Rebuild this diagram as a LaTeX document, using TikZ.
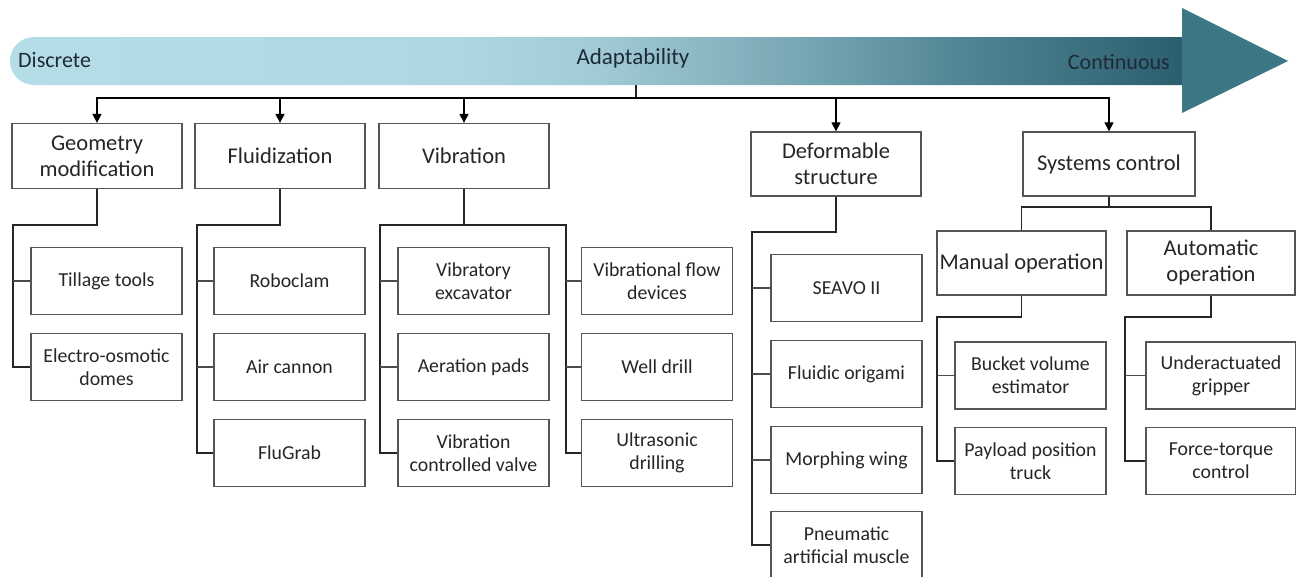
\documentclass[tikz,border=0pt]{standalone}
\usepackage{fontspec}
\setmainfont{Carlito}
\usetikzlibrary{arrows.meta}
\definecolor{boxline}{HTML}{555555}
\definecolor{txt}{HTML}{262626}
\definecolor{bandtxt}{HTML}{1E2A36}
\definecolor{bA}{HTML}{B4DDE8}
\definecolor{bB}{HTML}{AED7E2}
\definecolor{bC}{HTML}{A0CAD5}
\definecolor{bD}{HTML}{77A7B3}
\definecolor{bE}{HTML}{558896}
\definecolor{bF}{HTML}{2C5F6D}
\definecolor{headcol}{HTML}{3D7684}
\pgfdeclarehorizontalshading{bandshade}{100bp}{color(0bp)=(bA); color(25bp)=(bA); color(43.8bp)=(bB); color(50.2bp)=(bC); color(58.75bp)=(bD); color(65bp)=(bE); color(75bp)=(bF); color(100bp)=(bF)}
\tikzset{
  lvl/.style={draw=boxline, line width=1.3pt, fill=white, align=center, text=txt,
    font=\fontsize{22.5pt}{26pt}\selectfont, inner sep=0pt},
  leaf/.style={draw=boxline, line width=1.3pt, fill=white, align=center, text=txt,
    font=\fontsize{19.8pt}{23pt}\selectfont, minimum width=151pt, minimum height=67pt, inner sep=0pt},
  arr/.style={draw=black, line width=1.2pt, -{Triangle[length=9pt,width=9pt]}},
  link/.style={draw=black!85, line width=1.3pt},
  trunk/.style={draw=black!85, line width=1.8pt},
  stub/.style={draw=black!70, line width=1.4pt},
  bandlabel/.style={text=bandtxt, font=\fontsize{22pt}{26pt}\selectfont, inner sep=0pt},
}
\begin{document}
\begin{tikzpicture}[x=1pt,y=-1pt]
\useasboundingbox (0,0) rectangle (1296,576);
% band arrow
\shade[shading=bandshade] (1182,37) -- (34,37) arc[start angle=90, end angle=270, radius=24pt] -- (1182,85) -- cycle;
\fill[headcol] (1182,8) -- (1288,61) -- (1182,113) -- cycle;
\node[bandlabel, anchor=west] (discrete) at (18,60) {Discrete};
\node[bandlabel, font=\fontsize{23pt}{26pt}\selectfont] (adapt) at (633,58) {Adaptability};
\node[bandlabel, anchor=east] (cont) at (1170,62) {Continuous};
\coordinate (bandbot) at (636,85);
\coordinate (hub) at (636,98);

% level 1
\node[lvl, minimum width=170pt, minimum height=65pt] (geo) at (97,156) {Geometry\\modification};
\node[lvl, minimum width=170pt, minimum height=65pt] (flu) at (280,156) {Fluidization};
\node[lvl, minimum width=170pt, minimum height=65pt] (vib) at (464,156) {Vibration};
\node[lvl, minimum width=170pt, minimum height=64pt] (def) at (836,164) {Deformable\\structure};
\node[lvl, minimum width=172pt, minimum height=64pt] (sys) at (1109,164) {Systems control};
\node[lvl, minimum width=169pt, minimum height=64pt] (man) at (1021.5,263) {Manual operation};
\node[lvl, minimum width=168pt, minimum height=64pt] (auto) at (1211,263) {Automatic\\operation};

% leaves
\node[leaf] (tillage) at (106.5,281) {Tillage tools};
\node[leaf] (electro) at (106.5,367) {Electro-osmotic\\domes};
\node[leaf] (roboclam) at (289.5,281) {Roboclam};
\node[leaf] (aircannon) at (289.5,367) {Air cannon};
\node[leaf] (flugrab) at (289.5,453) {FluGrab};
\node[leaf] (excavator) at (473.5,281) {Vibratory\\excavator};
\node[leaf] (aeration) at (473.5,367) {Aeration pads};
\node[leaf] (valve) at (473.5,453) {Vibration\\controlled valve};
\node[leaf] (flow) at (657,281) {Vibrational flow\\devices};
\node[leaf] (well) at (657,367) {Well drill};
\node[leaf] (ultra) at (657,453) {Ultrasonic\\drilling};
\node[leaf] (seavo) at (846.5,288) {SEAVO II};
\node[leaf] (origami) at (846.5,374) {Fluidic origami};
\node[leaf] (morph) at (846.5,460) {Morphing wing};
\node[leaf] (pneu) at (846.5,545) {Pneumatic\\artificial muscle};
\node[leaf] (bucket) at (1030.5,375.5) {Bucket volume\\estimator};
\node[leaf] (payload) at (1030.5,461) {Payload position\\truck};
\node[leaf, minimum width=150pt] (under) at (1221,375.5) {Underactuated\\gripper};
\node[leaf, minimum width=150pt] (force) at (1221,461) {Force-torque\\control};

% top connectors
\draw[link] (bandbot) -- (hub);
\draw[arr] (hub) -| (geo.north);
\draw[arr] (hub) -| (flu.north);
\draw[arr] (hub) -| (vib.north);
\draw[arr] (hub) -| (def.north);
\draw[arr] (hub) -| (sys.north);

% geometry
\coordinate (gT) at (13,225);
\draw[trunk] (geo.south) |- (gT) |- (electro.west);
\draw[stub] (gT |- tillage.west) -- (tillage.west);
% fluidization
\coordinate (fT) at (197,225);
\draw[trunk] (flu.south) |- (fT) |- (flugrab.west);
\draw[stub] (fT |- roboclam.west) -- (roboclam.west);
\draw[stub] (fT |- aircannon.west) -- (aircannon.west);
% vibration
\coordinate (vL) at (380,225);
\coordinate (vR) at (566,225);
\draw[trunk] (vib.south) |- (vL) |- (valve.west);
\draw[trunk] (vib.south) |- (vR) |- (ultra.west);
\draw[stub] (vL |- excavator.west) -- (excavator.west);
\draw[stub] (vL |- aeration.west) -- (aeration.west);
\draw[stub] (vR |- flow.west) -- (flow.west);
\draw[stub] (vR |- well.west) -- (well.west);
% deformable
\coordinate (dT) at (752,232);
\draw[trunk] (def.south) |- (dT) |- (pneu.west);
\draw[stub] (dT |- seavo.west) -- (seavo.west);
\draw[stub] (dT |- origami.west) -- (origami.west);
\draw[stub] (dT |- morph.west) -- (morph.west);
% systems control
\coordinate (sH) at (1109,207);
\draw[link] (sys.south) -- (sH) -| (man.north);
\draw[link] (sH) -| (auto.north);
\coordinate (mT) at (937,317);
\draw[trunk] (man.south) |- (mT) |- (payload.west);
\draw[stub] (mT |- bucket.west) -- (bucket.west);
\coordinate (aT) at (1125,317);
\draw[trunk] (auto.south) |- (aT) |- (force.west);
\draw[stub] (aT |- under.west) -- (under.west);
\end{tikzpicture}
\end{document}
